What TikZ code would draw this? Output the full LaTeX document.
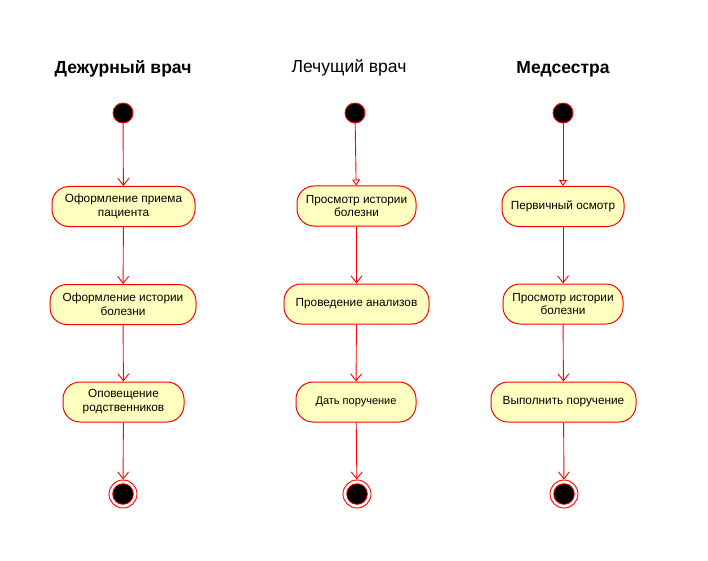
\documentclass[tikz,border=0pt]{standalone}
\usepackage{fontspec}
\setmainfont{Liberation Sans}
\usetikzlibrary{arrows.meta}
\definecolor{actfill}{HTML}{FFFFC0}
\definecolor{umlred}{HTML}{FF0000}
\tikzset{
  act/.style={draw=umlred, fill=actfill, rounded corners=17pt, line width=1pt,
    minimum height=40pt, align=center, font=\fontsize{11.8}{13.8}\selectfont, inner sep=2pt},
  startnode/.style={circle, draw=umlred, fill=black, minimum size=20pt, inner sep=0pt, line width=0.9pt},
  endnode/.style={circle, draw=umlred, fill=white, minimum size=28pt, inner sep=0pt, line width=0.9pt,
    path picture={\fill[umlred] (path picture bounding box.center) circle (10.8pt);
                  \fill[black] (path picture bounding box.center) circle (9.9pt);}},
  flow/.style={draw=umlred, line width=0.9pt, -{Straight Barb[length=7pt,width=11pt,line width=0.9pt]}},
  flowtri/.style={draw=umlred, line width=0.9pt, -{Triangle[open,length=6pt,width=8pt,fill=white,line width=0.9pt]}},
  hdrb/.style={font=\fontsize{17.5}{20}\selectfont\bfseries},
  hdr/.style={font=\fontsize{17.5}{20}\selectfont}
}
\begin{document}
\begin{tikzpicture}[x=1pt,y=-1pt]
\useasboundingbox (0,0) rectangle (708,561);
% column 1
\node[hdrb] (h1) at (123,69) {Дежурный врач};
\node[startnode] (s1) at (123,113) {};
\node[act, minimum width=143pt] (a1) at (123.5,206.5) {Оформление приема\\пациента};
\node[act, minimum width=146pt] (a2) at (123,304.5) {Оформление истории\\болезни};
\node[act, minimum width=121pt] (a3) at (123.5,402) {Оповещение\\родственников};
\node[endnode] (e1) at (123,494) {};
\draw[flow] (s1) -- (a1);
\draw[flow] (a1) -- (a2);
\draw[flow] (a2) -- (a3);
\draw[flow] (a3) -- (e1);
% column 2
\node[hdr] (h2) at (349,68) {Лечущий врач};
\node[startnode] (s2) at (355,113) {};
\node[act, minimum width=119pt] (b1) at (356.5,206) {Просмотр истории\\болезни};
\node[act, minimum width=145pt] (b2) at (356.5,304) {Проведение анализов};
\node[act, minimum width=120pt, font=\fontsize{11}{13}\selectfont] (b3) at (356,402) {Дать поручение};
\node[endnode] (e2) at (357,494) {};
\draw[flowtri] (s2) -- (b1);
\draw[flow] (b1) -- (b2);
\draw[flow] (b2) -- (b3);
\draw[flow] (b3) -- (e2);
% column 3
\node[hdrb] (h3) at (563,69) {Медсестра};
\node[startnode] (s3) at (563,113) {};
\node[act, minimum width=122pt] (c1) at (563,206.5) {Первичный осмотр};
\node[act, minimum width=120pt] (c2) at (563,304) {Просмотр истории\\болезни};
\node[act, minimum width=145pt] (c3) at (563.5,402) {Выполнить поручение};
\node[endnode] (e3) at (564,494) {};
\draw[flowtri] (s3) -- (c1);
\draw[flow] (c1) -- (c2);
\draw[flow] (c2) -- (c3);
\draw[flow] (c3) -- (e3);
\end{tikzpicture}
\end{document}
